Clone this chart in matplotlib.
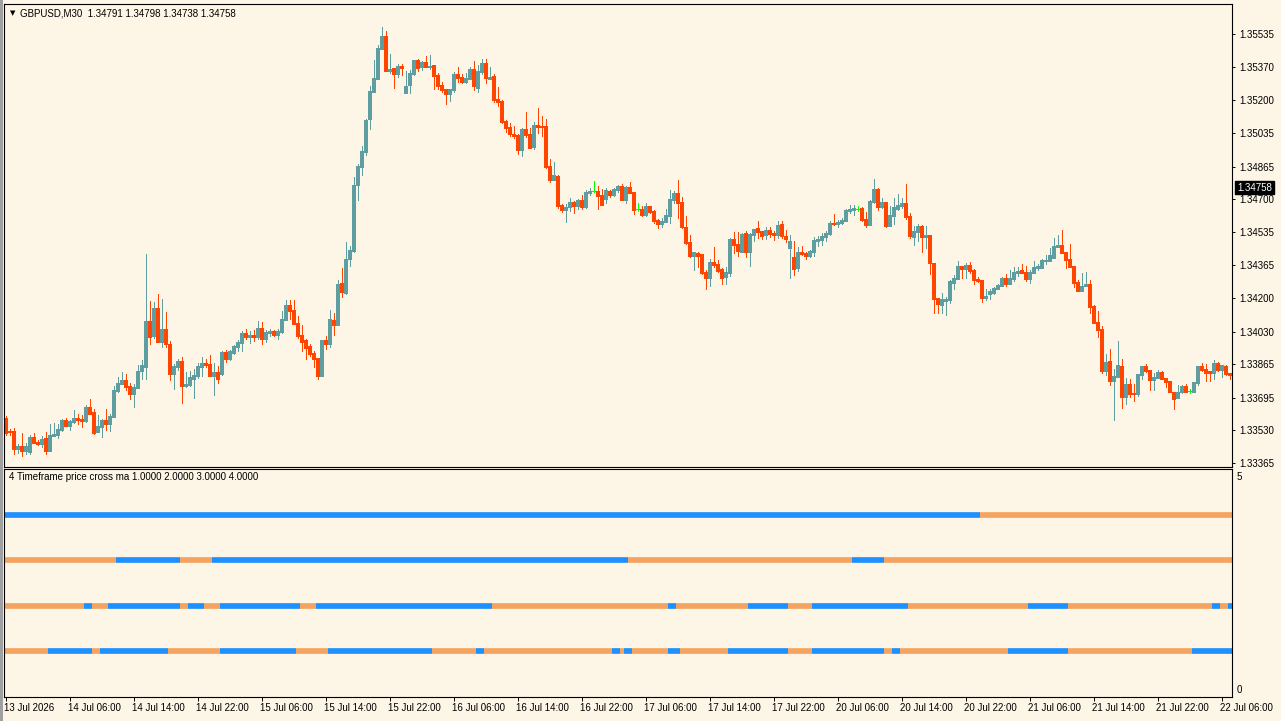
import numpy as np
import pandas as pd
import matplotlib
matplotlib.use("Agg")
import matplotlib.pyplot as plt
from matplotlib.patches import Rectangle
from matplotlib.transforms import blended_transform_factory, ScaledTranslation

plt.rcParams["font.family"] = ["Liberation Sans", "DejaVu Sans"]

BG = "#FDF5E6"
BULL = "#5F9EA0"
BEAR = "#FF4500"
DOJI = "#00FF00"
ABOVE = "#1E90FF"
BELOW = "#F4A460"

SYMBOL = "GBPUSD,M30"
HEADER_OHLC = [1.34791, 1.34798, 1.34738, 1.34758]
LAST_PRICE = 1.34758
FIRST_BAR = "2026-07-13 22:00"
SUB_TITLE = "4 Timeframe price cross ma 1.0000 2.0000 3.0000 4.0000"

OPEN = [
    1.33593, 1.33527, 1.33527, 1.33436, 1.33451, 1.33426, 1.33421, 1.33497, 1.33471, 1.33461,
    1.33491, 1.33426, 1.33502, 1.33507, 1.33532, 1.33583, 1.33552, 1.33572, 1.33593, 1.33588,
    1.33578, 1.33648, 1.33623, 1.33522, 1.33547, 1.33583, 1.33562, 1.33598, 1.33729, 1.33765,
    1.33785, 1.33755, 1.33714, 1.33744, 1.33830, 1.33851, 1.34083, 1.34007, 1.34149, 1.33977,
    1.34043, 1.33967, 1.33815, 1.33851, 1.33881, 1.33755, 1.33760, 1.33790, 1.33805, 1.33851,
    1.33871, 1.33866, 1.33805, 1.33825, 1.33815, 1.33927, 1.33891, 1.33922, 1.33952, 1.33972,
    1.34023, 1.34002, 1.34013, 1.34002, 1.34048, 1.33992, 1.34023, 1.34033, 1.34013, 1.34028,
    1.34088, 1.34164, 1.34139, 1.34073, 1.34013, 1.33987, 1.33957, 1.33922, 1.33896, 1.33805,
    1.33987, 1.33967, 1.34088, 1.34063, 1.34276, 1.34225, 1.34397, 1.34437, 1.34771, 1.34862,
    1.34938, 1.35105, 1.35242, 1.35307, 1.35459, 1.35525, 1.35348, 1.35363, 1.35333, 1.35373,
    1.35237, 1.35277, 1.35333, 1.35403, 1.35368, 1.35393, 1.35368, 1.35378, 1.35328, 1.35277,
    1.35257, 1.35231, 1.35252, 1.35333, 1.35317, 1.35292, 1.35307, 1.35358, 1.35262, 1.35343,
    1.35388, 1.35307, 1.35322, 1.35206, 1.35196, 1.35095, 1.35065, 1.35029, 1.35024, 1.34948,
    1.35054, 1.35029, 1.34963, 1.35075, 1.35070, 1.35070, 1.34867, 1.34797, 1.34817, 1.34670,
    1.34645, 1.34660, 1.34685, 1.34665, 1.34695, 1.34660, 1.34731, 1.34741, 1.34741, 1.34721,
    1.34700, 1.34741, 1.34721, 1.34746, 1.34766, 1.34695, 1.34761, 1.34736, 1.34650, 1.34650,
    1.34619, 1.34665, 1.34640, 1.34594, 1.34574, 1.34584, 1.34614, 1.34695, 1.34731, 1.34685,
    1.34559, 1.34483, 1.34412, 1.34427, 1.34422, 1.34331, 1.34301, 1.34382, 1.34372, 1.34346,
    1.34306, 1.34326, 1.34498, 1.34473, 1.34432, 1.34528, 1.34432, 1.34518, 1.34554, 1.34538,
    1.34518, 1.34544, 1.34528, 1.34518, 1.34574, 1.34513, 1.34452, 1.34407, 1.34351, 1.34432,
    1.34427, 1.34412, 1.34432, 1.34488, 1.34493, 1.34508, 1.34523, 1.34579, 1.34574, 1.34579,
    1.34589, 1.34640, 1.34645, 1.34650, 1.34655, 1.34599, 1.34569, 1.34685, 1.34751, 1.34660,
    1.34685, 1.34564, 1.34614, 1.34650, 1.34665, 1.34680, 1.34614, 1.34508, 1.34533, 1.34564,
    1.34508, 1.34518, 1.34377, 1.34200, 1.34164, 1.34184, 1.34190, 1.34276, 1.34296, 1.34362,
    1.34346, 1.34367, 1.34341, 1.34296, 1.34291, 1.34200, 1.34220, 1.34225, 1.34245, 1.34260,
    1.34301, 1.34270, 1.34296, 1.34326, 1.34341, 1.34331, 1.34296, 1.34326, 1.34351, 1.34351,
    1.34387, 1.34387, 1.34402, 1.34458, 1.34468, 1.34432, 1.34397, 1.34362, 1.34281, 1.34235,
    1.34260, 1.34270, 1.34159, 1.34078, 1.34043, 1.33830, 1.33881, 1.33780, 1.33800, 1.33856,
    1.33699, 1.33765, 1.33719, 1.33714, 1.33810, 1.33856, 1.33835, 1.33785, 1.33795, 1.33825,
    1.33795, 1.33780, 1.33724, 1.33694, 1.33724, 1.33755, 1.33729, 1.33724, 1.33770, 1.33856,
    1.33841, 1.33830, 1.33820, 1.33871, 1.33835, 1.33856, 1.33820,
]

HIGH = [
    1.33603, 1.33537, 1.33542, 1.33461, 1.33517, 1.33466, 1.33507, 1.33517, 1.33481, 1.33502,
    1.33522, 1.33562, 1.33567, 1.33562, 1.33588, 1.33593, 1.33583, 1.33633, 1.33613, 1.33608,
    1.33658, 1.33689, 1.33638, 1.33608, 1.33588, 1.33638, 1.33613, 1.33755, 1.33800, 1.33825,
    1.33815, 1.33770, 1.33765, 1.33861, 1.33886, 1.34422, 1.34184, 1.34179, 1.34220, 1.34195,
    1.34129, 1.33982, 1.33866, 1.33891, 1.33901, 1.33825, 1.33830, 1.33841, 1.33871, 1.33901,
    1.33891, 1.33911, 1.33871, 1.33856, 1.33932, 1.33937, 1.33937, 1.33962, 1.33987, 1.34033,
    1.34043, 1.34033, 1.34038, 1.34083, 1.34078, 1.34038, 1.34043, 1.34038, 1.34043, 1.34134,
    1.34190, 1.34190, 1.34190, 1.34109, 1.34063, 1.33992, 1.33967, 1.33932, 1.33896, 1.33987,
    1.34007, 1.34139, 1.34124, 1.34291, 1.34351, 1.34483, 1.34463, 1.34812, 1.34877, 1.34968,
    1.35105, 1.35272, 1.35403, 1.35479, 1.35570, 1.35550, 1.35434, 1.35363, 1.35383, 1.35383,
    1.35348, 1.35353, 1.35403, 1.35408, 1.35398, 1.35424, 1.35429, 1.35378, 1.35338, 1.35292,
    1.35257, 1.35257, 1.35343, 1.35368, 1.35333, 1.35338, 1.35368, 1.35398, 1.35378, 1.35408,
    1.35408, 1.35368, 1.35333, 1.35267, 1.35201, 1.35100, 1.35085, 1.35070, 1.35029, 1.35060,
    1.35140, 1.35060, 1.35090, 1.35161, 1.35120, 1.35105, 1.34903, 1.34888, 1.34822, 1.34675,
    1.34675, 1.34705, 1.34690, 1.34700, 1.34721, 1.34746, 1.34756, 1.34791, 1.34766, 1.34751,
    1.34756, 1.34746, 1.34756, 1.34771, 1.34776, 1.34766, 1.34786, 1.34736, 1.34680, 1.34665,
    1.34680, 1.34665, 1.34645, 1.34599, 1.34604, 1.34650, 1.34746, 1.34741, 1.34797, 1.34711,
    1.34614, 1.34518, 1.34432, 1.34432, 1.34422, 1.34341, 1.34397, 1.34458, 1.34392, 1.34351,
    1.34356, 1.34503, 1.34533, 1.34533, 1.34528, 1.34538, 1.34528, 1.34549, 1.34589, 1.34538,
    1.34559, 1.34559, 1.34538, 1.34589, 1.34589, 1.34544, 1.34518, 1.34488, 1.34458, 1.34463,
    1.34432, 1.34442, 1.34508, 1.34513, 1.34528, 1.34538, 1.34589, 1.34625, 1.34594, 1.34604,
    1.34650, 1.34670, 1.34670, 1.34665, 1.34660, 1.34635, 1.34695, 1.34802, 1.34756, 1.34705,
    1.34685, 1.34665, 1.34705, 1.34726, 1.34705, 1.34776, 1.34630, 1.34564, 1.34574, 1.34569,
    1.34564, 1.34518, 1.34377, 1.34200, 1.34225, 1.34205, 1.34291, 1.34316, 1.34387, 1.34362,
    1.34377, 1.34382, 1.34346, 1.34306, 1.34291, 1.34245, 1.34245, 1.34255, 1.34270, 1.34306,
    1.34321, 1.34341, 1.34356, 1.34356, 1.34372, 1.34362, 1.34341, 1.34387, 1.34372, 1.34397,
    1.34417, 1.34452, 1.34503, 1.34518, 1.34544, 1.34432, 1.34473, 1.34362, 1.34291, 1.34326,
    1.34331, 1.34291, 1.34164, 1.34134, 1.34058, 1.33916, 1.33942, 1.33841, 1.33982, 1.33891,
    1.33795, 1.33790, 1.33765, 1.33815, 1.33856, 1.33866, 1.33835, 1.33820, 1.33835, 1.33830,
    1.33795, 1.33780, 1.33724, 1.33760, 1.33760, 1.33765, 1.33739, 1.33775, 1.33856, 1.33871,
    1.33866, 1.33830, 1.33886, 1.33876, 1.33861, 1.33861, 1.33820,
]

LOW = [
    1.33507, 1.33507, 1.33411, 1.33416, 1.33400, 1.33411, 1.33411, 1.33466, 1.33456, 1.33446,
    1.33411, 1.33426, 1.33502, 1.33491, 1.33527, 1.33552, 1.33532, 1.33567, 1.33562, 1.33547,
    1.33572, 1.33613, 1.33512, 1.33522, 1.33497, 1.33532, 1.33527, 1.33598, 1.33724, 1.33765,
    1.33734, 1.33689, 1.33648, 1.33744, 1.33790, 1.33790, 1.33967, 1.33997, 1.33977, 1.33952,
    1.33952, 1.33785, 1.33739, 1.33835, 1.33669, 1.33750, 1.33755, 1.33694, 1.33795, 1.33805,
    1.33851, 1.33805, 1.33709, 1.33770, 1.33810, 1.33876, 1.33886, 1.33916, 1.33932, 1.33932,
    1.33992, 1.33972, 1.33982, 1.33992, 1.33967, 1.33977, 1.34007, 1.34007, 1.33992, 1.34023,
    1.34088, 1.34093, 1.34068, 1.33997, 1.33932, 1.33891, 1.33906, 1.33851, 1.33790, 1.33805,
    1.33942, 1.33952, 1.34013, 1.34063, 1.34205, 1.34220, 1.34362, 1.34432, 1.34695, 1.34822,
    1.34923, 1.35054, 1.35242, 1.35307, 1.35459, 1.35348, 1.35338, 1.35262, 1.35317, 1.35328,
    1.35237, 1.35237, 1.35328, 1.35348, 1.35353, 1.35368, 1.35358, 1.35257, 1.35257, 1.35242,
    1.35181, 1.35196, 1.35242, 1.35292, 1.35287, 1.35287, 1.35307, 1.35252, 1.35242, 1.35333,
    1.35287, 1.35307, 1.35191, 1.35171, 1.35085, 1.35039, 1.35019, 1.35009, 1.34928, 1.34918,
    1.35014, 1.34958, 1.34953, 1.35034, 1.35019, 1.34857, 1.34786, 1.34797, 1.34655, 1.34635,
    1.34584, 1.34640, 1.34630, 1.34650, 1.34650, 1.34655, 1.34721, 1.34736, 1.34650, 1.34670,
    1.34680, 1.34711, 1.34716, 1.34736, 1.34695, 1.34680, 1.34731, 1.34625, 1.34640, 1.34614,
    1.34614, 1.34630, 1.34579, 1.34554, 1.34559, 1.34584, 1.34579, 1.34680, 1.34604, 1.34554,
    1.34473, 1.34407, 1.34341, 1.34356, 1.34321, 1.34245, 1.34260, 1.34356, 1.34331, 1.34270,
    1.34270, 1.34311, 1.34427, 1.34412, 1.34432, 1.34407, 1.34362, 1.34488, 1.34503, 1.34498,
    1.34498, 1.34508, 1.34493, 1.34503, 1.34503, 1.34483, 1.34301, 1.34316, 1.34336, 1.34417,
    1.34397, 1.34407, 1.34412, 1.34463, 1.34468, 1.34488, 1.34518, 1.34569, 1.34559, 1.34574,
    1.34589, 1.34630, 1.34619, 1.34640, 1.34589, 1.34559, 1.34569, 1.34680, 1.34645, 1.34655,
    1.34559, 1.34564, 1.34574, 1.34645, 1.34655, 1.34599, 1.34503, 1.34468, 1.34488, 1.34432,
    1.34452, 1.34321, 1.34124, 1.34124, 1.34124, 1.34114, 1.34174, 1.34245, 1.34296, 1.34301,
    1.34301, 1.34326, 1.34270, 1.34281, 1.34179, 1.34190, 1.34195, 1.34220, 1.34245, 1.34260,
    1.34260, 1.34270, 1.34286, 1.34311, 1.34326, 1.34286, 1.34276, 1.34326, 1.34341, 1.34351,
    1.34372, 1.34387, 1.34402, 1.34458, 1.34427, 1.34351, 1.34356, 1.34255, 1.34235, 1.34235,
    1.34260, 1.34124, 1.34073, 1.34002, 1.33820, 1.33810, 1.33760, 1.33583, 1.33800, 1.33643,
    1.33664, 1.33699, 1.33679, 1.33704, 1.33790, 1.33825, 1.33734, 1.33734, 1.33795, 1.33790,
    1.33750, 1.33724, 1.33638, 1.33694, 1.33719, 1.33724, 1.33719, 1.33724, 1.33760, 1.33830,
    1.33780, 1.33780, 1.33790, 1.33830, 1.33800, 1.33810, 1.33790,
]

CLOSE = [
    1.33517, 1.33522, 1.33436, 1.33451, 1.33426, 1.33451, 1.33497, 1.33466, 1.33461, 1.33486,
    1.33426, 1.33507, 1.33512, 1.33537, 1.33583, 1.33552, 1.33578, 1.33593, 1.33583, 1.33578,
    1.33648, 1.33613, 1.33517, 1.33552, 1.33583, 1.33562, 1.33603, 1.33734, 1.33770, 1.33785,
    1.33750, 1.33714, 1.33750, 1.33830, 1.33861, 1.34083, 1.34002, 1.34149, 1.33977, 1.34043,
    1.33967, 1.33815, 1.33856, 1.33881, 1.33755, 1.33765, 1.33800, 1.33810, 1.33856, 1.33871,
    1.33861, 1.33805, 1.33825, 1.33790, 1.33927, 1.33891, 1.33932, 1.33957, 1.33977, 1.34023,
    1.34002, 1.34013, 1.34002, 1.34048, 1.33992, 1.34028, 1.34033, 1.34013, 1.34033, 1.34093,
    1.34164, 1.34134, 1.34068, 1.34007, 1.33977, 1.33947, 1.33916, 1.33891, 1.33805, 1.33987,
    1.33967, 1.34093, 1.34063, 1.34270, 1.34230, 1.34397, 1.34442, 1.34771, 1.34867, 1.34943,
    1.35100, 1.35247, 1.35312, 1.35464, 1.35525, 1.35348, 1.35358, 1.35333, 1.35373, 1.35363,
    1.35272, 1.35338, 1.35403, 1.35363, 1.35393, 1.35368, 1.35373, 1.35322, 1.35272, 1.35252,
    1.35231, 1.35257, 1.35333, 1.35312, 1.35292, 1.35312, 1.35358, 1.35272, 1.35348, 1.35388,
    1.35312, 1.35317, 1.35201, 1.35191, 1.35090, 1.35060, 1.35029, 1.35019, 1.34948, 1.35054,
    1.35024, 1.34958, 1.35075, 1.35065, 1.35065, 1.34862, 1.34797, 1.34822, 1.34665, 1.34645,
    1.34660, 1.34685, 1.34665, 1.34695, 1.34660, 1.34736, 1.34741, 1.34741, 1.34716, 1.34670,
    1.34746, 1.34721, 1.34751, 1.34766, 1.34695, 1.34761, 1.34731, 1.34645, 1.34650, 1.34619,
    1.34665, 1.34635, 1.34589, 1.34574, 1.34589, 1.34619, 1.34700, 1.34731, 1.34680, 1.34559,
    1.34478, 1.34412, 1.34432, 1.34412, 1.34326, 1.34301, 1.34382, 1.34367, 1.34336, 1.34301,
    1.34331, 1.34498, 1.34468, 1.34437, 1.34523, 1.34432, 1.34523, 1.34549, 1.34533, 1.34513,
    1.34544, 1.34523, 1.34518, 1.34569, 1.34513, 1.34498, 1.34488, 1.34346, 1.34432, 1.34422,
    1.34412, 1.34437, 1.34493, 1.34498, 1.34513, 1.34528, 1.34579, 1.34574, 1.34584, 1.34594,
    1.34645, 1.34650, 1.34655, 1.34650, 1.34594, 1.34569, 1.34690, 1.34751, 1.34660, 1.34685,
    1.34564, 1.34619, 1.34660, 1.34670, 1.34680, 1.34609, 1.34513, 1.34538, 1.34564, 1.34508,
    1.34518, 1.34377, 1.34195, 1.34169, 1.34195, 1.34195, 1.34286, 1.34301, 1.34362, 1.34346,
    1.34367, 1.34336, 1.34291, 1.34286, 1.34200, 1.34210, 1.34235, 1.34250, 1.34265, 1.34301,
    1.34270, 1.34301, 1.34331, 1.34336, 1.34326, 1.34296, 1.34331, 1.34356, 1.34362, 1.34392,
    1.34392, 1.34417, 1.34463, 1.34468, 1.34427, 1.34392, 1.34356, 1.34276, 1.34235, 1.34260,
    1.34270, 1.34154, 1.34073, 1.34038, 1.33830, 1.33876, 1.33780, 1.33805, 1.33861, 1.33699,
    1.33765, 1.33714, 1.33714, 1.33815, 1.33856, 1.33830, 1.33785, 1.33800, 1.33825, 1.33790,
    1.33775, 1.33724, 1.33689, 1.33724, 1.33755, 1.33724, 1.33729, 1.33775, 1.33856, 1.33835,
    1.33820, 1.33820, 1.33871, 1.33835, 1.33861, 1.33815, 1.33810,
]

PRICE_TICKS = [1.33365, 1.33530, 1.33695, 1.33865, 1.34030, 1.34200, 1.34365,
               1.34535, 1.34700, 1.34865, 1.35035, 1.35200, 1.35370, 1.35535]

# sub window: one row per timeframe, 1 = price above its MA (blue), 0 = below
TF_LEVELS = [4, 3, 2, 1]
TF_FIRST_STATE = [1, 0, 0, 0]
TF_SWITCH_BARS = [
    [244],
    [28, 44, 52, 156, 212, 220],
    [20, 22, 26, 44, 46, 50, 54, 74, 78, 122, 166, 168, 186, 196, 202, 226,
     256, 266, 302, 304, 306],
    [11, 22, 24, 41, 54, 73, 81, 107, 118, 120, 152, 154, 155, 157, 166, 169,
     181, 196, 202, 220, 222, 224, 251, 266, 297],
]

W, H = 1281, 721


def frame(left, top, right, bottom):
    return [left / W, 1 - bottom / H, (right - left) / W, (bottom - top) / H]


def main():
    n = len(CLOSE)
    x = np.arange(n)
    o, h, l, c = (np.array(v) for v in (OPEN, HIGH, LOW, CLOSE))

    times = pd.date_range(FIRST_BAR, periods=2 * n, freq="30min")
    times = times[times.dayofweek < 5][:n]

    fig = plt.figure(figsize=(W / 100, H / 100), dpi=100, facecolor=BG)
    ax = fig.add_axes(frame(4, 4, 1232, 467), facecolor=BG)
    ax2 = fig.add_axes(frame(4, 469, 1232, 697), facecolor=BG, sharex=ax)

    # candles: 1px wick, 3px body
    colors = np.where(c > o, BULL, np.where(c < o, BEAR, DOJI))
    ax.vlines(x, l, h, colors=colors, linewidth=0.72, antialiased=False)
    ax.bar(x, c - o, bottom=o, width=0.62, color=colors, edgecolor=colors,
           linewidth=0.36, antialiased=False)

    ax.set_xlim(-0.425, n - 0.425)
    ax.set_ylim(1.33345, 1.35687)
    ax.yaxis.tick_right()
    ax.set_yticks(PRICE_TICKS)
    ax.set_yticklabels([f"{p:.5f}" for p in PRICE_TICKS])
    ax.tick_params(axis="y", length=2.5, width=0.7, pad=2.5, labelsize=7,
                   colors="black")
    ax.tick_params(axis="x", bottom=False, labelbottom=False)

    bl = blended_transform_factory(ax.transAxes, ax.transData)
    ax.text(1.0, LAST_PRICE, f"{LAST_PRICE:.5f}", fontsize=7, color="white",
            va="center", ha="left",
            transform=bl + ScaledTranslation(5 / 100, 0, fig.dpi_scale_trans),
            bbox=dict(boxstyle="square,pad=0.18", fc="black", ec="black"))

    fig.text(10 / W, 1 - 13 / H, "\u25BC", fontsize=5, family="DejaVu Sans",
             va="center", ha="left")
    header = SYMBOL + "  " + " ".join(f"{v:.5f}" for v in HEADER_OHLC)
    fig.text(20 / W, 1 - 13 / H, header, fontsize=7, va="center", ha="left")

    # timeframe rows
    for level, state, switches in zip(TF_LEVELS, TF_FIRST_STATE, TF_SWITCH_BARS):
        edges = [0] + switches + [n]
        for k in range(len(edges) - 1):
            s = state if k % 2 == 0 else 1 - state
            ax2.hlines(level, edges[k] - 0.5, edges[k + 1] - 0.5,
                       color=ABOVE if s else BELOW, linewidth=4.1)

    ax2.set_ylim(0, 5)
    ax2.set_yticks([])
    ax2.text(5 / 1228, 0.965, SUB_TITLE, fontsize=7,
             transform=ax2.transAxes, va="center", ha="left")
    ax2.text(1.0, 5, "5", fontsize=7, va="top", ha="left",
             transform=blended_transform_factory(ax2.transAxes, ax2.transData)
             + ScaledTranslation(5 / 100, -3 / 100, fig.dpi_scale_trans))
    ax2.text(1.0, 0, "0", fontsize=7, va="bottom", ha="left",
             transform=blended_transform_factory(ax2.transAxes, ax2.transData)
             + ScaledTranslation(5 / 100, 2 / 100, fig.dpi_scale_trans))

    # time scale: every 8 hours
    tick_pos = [i for i, t in enumerate(times) if t.minute == 0 and t.hour % 8 == 6]
    tick_lab = [times[i].strftime("%d %b %Y") if k == 0 else times[i].strftime("%d %b %H:%M")
                for k, i in enumerate(tick_pos)]
    ax2.set_xticks(tick_pos)
    ax2.set_xticklabels(tick_lab, ha="left")
    ax2.tick_params(axis="x", length=3, width=0.7, pad=1.5, labelsize=7)
    for lab in ax2.get_xticklabels():
        lab.set_transform(lab.get_transform()
                          + ScaledTranslation(-1.5 / 100, 0, fig.dpi_scale_trans))

    for a in (ax, ax2):
        for sp in a.spines.values():
            sp.set_color("black")
            sp.set_linewidth(0.8)

    fig.add_artist(Rectangle((0, 0), 2.5 / W, 1, transform=fig.transFigure,
                             color="#A0A0A0", linewidth=0))

    fig.savefig("out.png", dpi=100, facecolor=BG)


if __name__ == "__main__":
    main()
